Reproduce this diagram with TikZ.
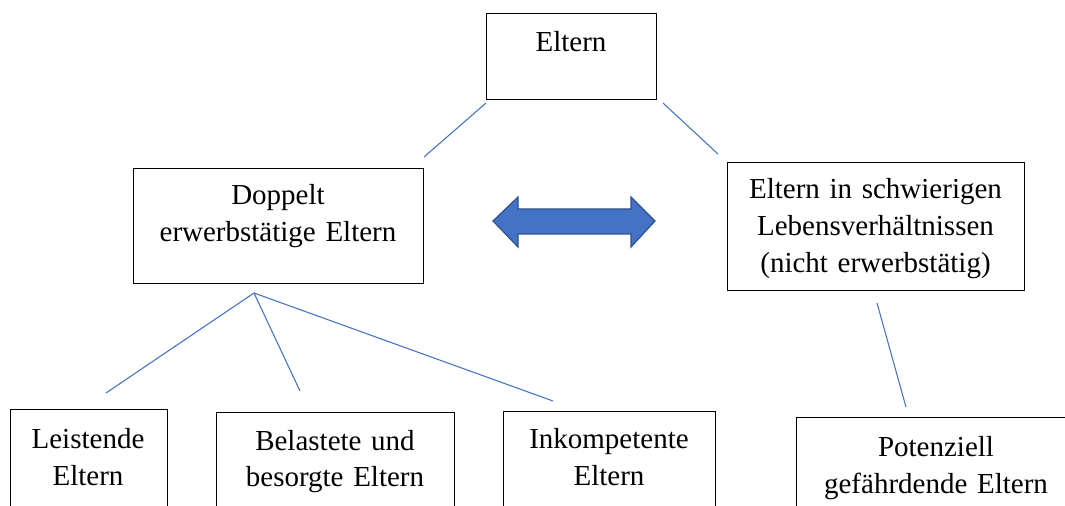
\documentclass[tikz,border=0pt]{standalone}
\usepackage{fontspec}
\setmainfont{Liberation Serif}
\definecolor{linkblue}{HTML}{4472C4}
\definecolor{arrowfill}{HTML}{4472C4}
\definecolor{arrowedge}{HTML}{2F528F}
\tikzset{
  box/.style={draw=black, line width=0.8pt, anchor=north west, inner sep=0pt, minimum width=#1},
  lbl/.style={anchor=base, inner sep=0pt, align=center, text width=9cm,
    font=\fontsize{21.75}{27.75}\selectfont},
  link/.style={draw=linkblue, line width=0.8pt},
  bigarrow/.style={fill=arrowfill, draw=arrowedge, line width=0.9pt, line join=miter}
}
\begin{document}
\begin{tikzpicture}[x=0.75pt, y=-0.75pt]
\useasboundingbox (0,0) rectangle (1065,506);
\clip (0,0) rectangle (1065,506);
% boxes
\node[box=127.5pt, minimum height=64.5pt] (eltern) at (486,13) {};
\node[box=217.5pt, minimum height=86.25pt] (doppelt) at (133,168) {};
\node[box=222.75pt, minimum height=96pt] (schwierig) at (727,162) {};
\node[box=117.75pt, minimum height=90pt] (leistende) at (10,409) {};
\node[box=178.5pt, minimum height=90pt] (belastete) at (216,412) {};
\node[box=159pt, minimum height=90pt] (inkompetent) at (503,411) {};
\node[box=210pt, minimum height=90pt] (potenziell) at (796,417) {};
% labels
\node[lbl] (t-eltern) at (571,52) {Eltern};
\node[lbl] (t-doppelt) at (278,205) {Doppelt\\erwerbstätige Eltern};
\node[lbl] (t-schwierig) at (875.5,199) {Eltern in schwierigen\\Lebensverhältnissen\\(nicht erwerbstätig)};
\node[lbl] (t-leistende) at (88,448) {Leistende\\Eltern};
\node[lbl] (t-belastete) at (335,450) {Belastete und\\besorgte Eltern};
\node[lbl] (t-inkompetent) at (609,448) {Inkompetente\\Eltern};
\node[lbl] (t-potenziell) at (936,456) {Potenziell\\gefährdende Eltern};
% connector end points
\coordinate (eA) at (486,103);
\coordinate (eB) at (424,157);
\coordinate (eC) at (663,103);
\coordinate (eD) at (718,154);
\coordinate (fork) at (254,293);
\coordinate (f1) at (106,393);
\coordinate (f2) at (300,391);
\coordinate (f3) at (553,401);
\coordinate (sA) at (877,303);
\coordinate (sB) at (906,407);
% connectors
\draw[link] (eA) -- (eB);
\draw[link] (eC) -- (eD);
\draw[link] (fork) -- (f1);
\draw[link] (fork) -- (f2);
\draw[link] (fork) -- (f3);
\draw[link] (sA) -- (sB);
% double arrow
\draw[bigarrow] (493,221) -- (518,197) -- (518,209) -- (631,209) -- (631,197)
  -- (655,221) -- (631,247) -- (631,234) -- (518,234) -- (518,247) -- cycle;
\end{tikzpicture}
\end{document}
